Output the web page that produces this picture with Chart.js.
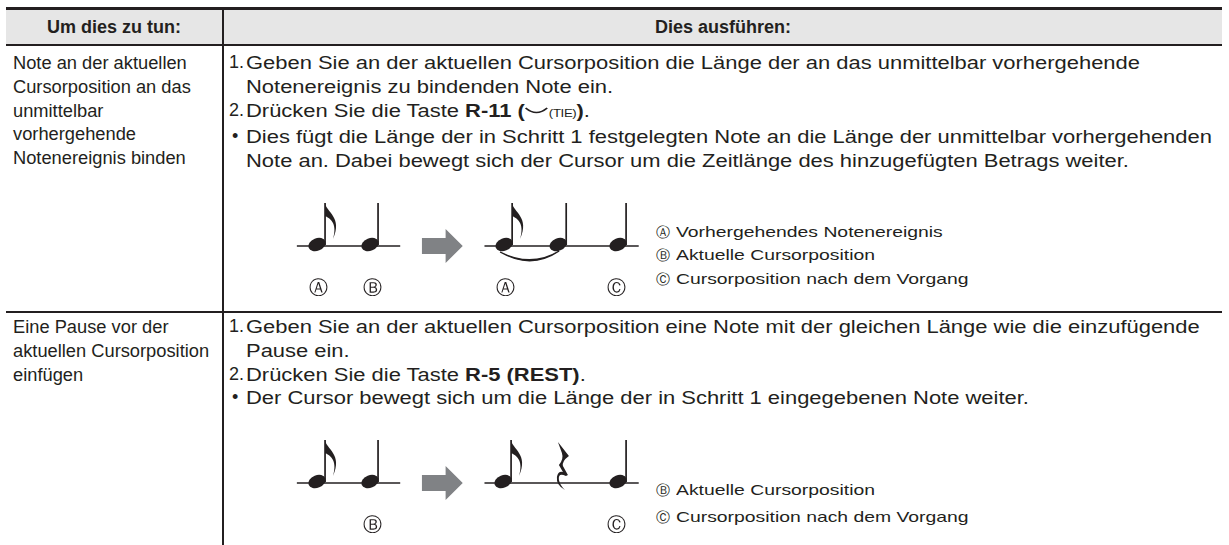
<!DOCTYPE html>
<html><head><meta charset="utf-8">
<script src="https://cdn.jsdelivr.net/npm/chart.js@4.4.1/dist/chart.umd.min.js"></script>
<style>
html,body{margin:0;padding:0;background:#fff;width:1229px;height:545px;overflow:hidden;}
body{font-family:"Liberation Sans",Arial,Helvetica,sans-serif;color:#231f20;position:relative;}
.bar{position:absolute;background:#231f20;}
.txt{position:absolute;font-size:18.3px;line-height:23.75px;white-space:nowrap;}
.hdr{position:absolute;font-size:18px;font-weight:bold;line-height:34px;text-align:center;top:10px;white-space:nowrap;}
.step{position:relative;padding-left:17px;}
.step .m{position:absolute;left:0;top:0;font-size:18px;}
.ln{transform:scaleX(1.2);transform-origin:0 50%;}
.lab{position:absolute;font-family:"DejaVu Sans",sans-serif;font-size:19px;line-height:19px;transform:translate(-50%,-50%);}
.leg{position:absolute;font-size:15px;line-height:18px;white-space:nowrap;transform:translateY(-50%);}
.leg .circ{font-family:"DejaVu Sans",sans-serif;font-size:13.5px;position:absolute;left:0;top:0;}
.leg .t{position:absolute;left:20px;top:0;transform:scaleX(1.29);transform-origin:0 50%;}
.small{font-size:11px;letter-spacing:-0.3px;}
canvas{position:absolute;}
</style></head><body>
<div id="root"></div>
<script>
// ---------- text content ----------
const headers = ['Um dies zu tun:', 'Dies ausführen:'];
const rowLabels = [
  ['Note an der aktuellen', 'Cursorposition an das', 'unmittelbar', 'vorhergehende', 'Notenereignis binden'],
  ['Eine Pause vor der', 'aktuellen Cursorposition', 'einfügen']
];
const tieKey = '<b>R-11 (</b><svg width="20" height="10" style="vertical-align:1px"><path d="M1 2 Q10 11 19 2" fill="none" stroke="#231f20" stroke-width="1.6"/></svg><span class="small">(TIE)</span><b>)</b>.';
const rowSteps = [
  [
    { m: '1.', lines: ['Geben Sie an der aktuellen Cursorposition die Länge der an das unmittelbar vorhergehende', 'Notenereignis zu bindenden Note ein.'] },
    { m: '2.', lines: ['Drücken Sie die Taste ' + tieKey] },
    { m: '•', lines: ['Dies fügt die Länge der in Schritt 1 festgelegten Note an die Länge der unmittelbar vorhergehenden', 'Note an. Dabei bewegt sich der Cursor um die Zeitlänge des hinzugefügten Betrags weiter.'] }
  ],
  [
    { m: '1.', lines: ['Geben Sie an der aktuellen Cursorposition eine Note mit der gleichen Länge wie die einzufügende', 'Pause ein.'] },
    { m: '2.', lines: ['Drücken Sie die Taste <b>R-5 (REST)</b>.'] },
    { m: '•', lines: ['Der Cursor bewegt sich um die Länge der in Schritt 1 eingegebenen Note weiter.'] }
  ]
];
const legendMarks = [['Ⓐ', 'Ⓑ', 'Ⓒ'], ['Ⓑ', 'Ⓒ']];
const legendTexts = [
  ['Vorhergehendes Notenereignis', 'Aktuelle Cursorposition', 'Cursorposition nach dem Vorgang'],
  ['Aktuelle Cursorposition', 'Cursorposition nach dem Vorgang']
];

// ---------- diagram data (positions in note slots) ----------
const beforeKinds = ['eighth', 'quarter'];
const beforeSlots = [0, 1];
const afterKinds = [['eighth', 'quarter', 'quarter'], ['eighth', 'rest', 'quarter']];
const afterSlots = [[3.53, 4.55, 5.68], [3.51, 4.64, 5.68]];
const staffBefore = [-0.38, 1.57];
const staffAfter = [3.16, 6.07];
const arrowSlots = [1.98, 2.75];
const tieSlots = [3.53, 4.55];
const circleMarks = [['Ⓐ', 'Ⓑ', 'Ⓐ', 'Ⓒ'], ['Ⓑ', 'Ⓒ']];
const circleSlots = [[0.03, 1.04, 3.55, 5.66], [1.04, 5.66]];

// ---------- layout ----------
const L = 6, R = 1222, DIV = 222;
const root = document.getElementById('root');
function add(html) { root.insertAdjacentHTML('beforeend', html); }
add(`<div style="position:absolute;left:${L}px;top:10px;width:${R-L}px;height:34px;background:#e6e6e6"></div>`);
add(`<div class="bar" style="left:${L}px;top:7px;width:${R-L}px;height:3px"></div>`);
add(`<div class="bar" style="left:${L}px;top:44px;width:${R-L}px;height:2px"></div>`);
add(`<div class="bar" style="left:${L}px;top:311px;width:${R-L}px;height:1.6px"></div>`);
add(`<div class="bar" style="left:${DIV}px;top:10px;width:2px;height:535px"></div>`);
add(`<div class="hdr" style="left:${L}px;width:${DIV-L}px">${headers[0]}</div>`);
add(`<div class="hdr" style="left:${DIV+2}px;width:${R-DIV-2}px">${headers[1]}</div>`);
const rowTops = [51, 315];
rowLabels.forEach((lines, r) => {
  add(`<div class="txt" style="left:13px;top:${rowTops[r]}px">${lines.join('<br>')}</div>`);
});
rowSteps.forEach((steps, r) => {
  const html = steps.map(s => `<div class="step"><span class="m"${s.m === '•' ? ' style="left:3px"' : ''}>${s.m}</span>${s.lines.map(l => `<div class="ln">${l}</div>`).join('')}</div>`).join('');
  add(`<div class="txt" style="left:229px;top:${rowTops[r]}px">${html}</div>`);
});
const legendY = [[232, 255, 279], [490, 517]];
legendTexts.forEach((arr, r) => arr.forEach((t, i) => {
  add(`<div class="leg" style="left:656px;top:${legendY[r][i]}px;height:18px"><span class="circ">${legendMarks[r][i]}</span><span class="t">${t}</span></div>`);
}));

// ---------- note drawing plugin ----------
const INK = '#231f20';
function head(ctx, x, y) {
  ctx.beginPath();
  ctx.ellipse(x, y - 1.5, 9, 6.2, -0.38, 0, Math.PI * 2);
  ctx.fill();
}
function stem(ctx, x, y) {
  ctx.fillRect(x + 7.2, y - 43, 1.7, 42);
}
function flag(ctx, x, y) {
  const sx = x + 8, top = y - 43;
  ctx.beginPath();
  ctx.moveTo(sx, top);
  ctx.bezierCurveTo(sx + 1, top + 9, sx + 18, top + 14, sx + 8, top + 36);
  ctx.bezierCurveTo(sx + 13, top + 19, sx + 4, top + 15, sx, top + 13);
  ctx.closePath();
  ctx.fill();
}
function rest(ctx, x, y) {
  ctx.beginPath();
  ctx.moveTo(x - 5, y - 41);
  ctx.lineTo(x + 6, y - 27);
  ctx.quadraticCurveTo(x - 1, y - 22, x + 0, y - 17);
  ctx.lineTo(x + 5, y - 8);
  ctx.lineTo(x + 3, y - 7);
  ctx.quadraticCurveTo(x - 5, y - 11, x - 4, y - 3);
  ctx.quadraticCurveTo(x - 3, y + 2, x + 2, y + 7);
  ctx.quadraticCurveTo(x - 7, y + 2, x - 6, y - 6);
  ctx.quadraticCurveTo(x - 5, y - 12, x + 0, y - 11);
  ctx.lineTo(x - 4, y - 18);
  ctx.quadraticCurveTo(x + 1, y - 24, x - 1, y - 30);
  ctx.closePath();
  ctx.fill();
}
const notePlugin = {
  id: 'notes',
  afterDatasetsDraw(chart) {
    const ctx = chart.ctx;
    ctx.save();
    ctx.fillStyle = INK; ctx.strokeStyle = INK;
    chart.data.datasets.forEach((ds, di) => {
      const pts = chart.getDatasetMeta(di).data;
      if (ds.kinds) {
        ds.kinds.forEach((k, i) => {
          const p = pts[i];
          if (k === 'rest') { rest(ctx, p.x, p.y); return; }
          head(ctx, p.x, p.y); stem(ctx, p.x, p.y);
          if (k === 'eighth') flag(ctx, p.x, p.y);
        });
      }
      if (ds.arrow) {
        const a = pts[0], b = pts[1], len = b.x - a.x;
        ctx.fillStyle = '#808285';
        ctx.beginPath();
        ctx.moveTo(a.x, a.y - 8); ctx.lineTo(a.x + len * 0.58, a.y - 8);
        ctx.lineTo(a.x + len * 0.58, a.y - 17); ctx.lineTo(b.x, a.y);
        ctx.lineTo(a.x + len * 0.58, a.y + 17); ctx.lineTo(a.x + len * 0.58, a.y + 8);
        ctx.lineTo(a.x, a.y + 8); ctx.closePath(); ctx.fill();
        ctx.fillStyle = INK;
      }
      if (ds.tie) {
        const a = pts[0], b = pts[1];
        ctx.beginPath();
        ctx.moveTo(a.x - 4, a.y + 6);
        ctx.quadraticCurveTo((a.x + b.x) / 2, a.y + 24, b.x + 1, a.y + 5);
        ctx.quadraticCurveTo((a.x + b.x) / 2, a.y + 22, a.x - 4, a.y + 6);
        ctx.lineWidth = 1.4; ctx.stroke(); ctx.fill();
      }
    });
    ctx.restore();
  }
};

// ---------- charts ----------
const PX = 53, ORIGIN = 317;       // slot -> page x mapping
const CL = 270, CW = 380, CH = 80; // canvas placement
const staffY = [245.5, 483];
function makeChart(r) {
  const cv = document.createElement('canvas');
  cv.width = CW; cv.height = CH;
  cv.style.left = CL + 'px';
  cv.style.top = (staffY[r] - 50) + 'px';
  cv.style.width = CW + 'px'; cv.style.height = CH + 'px';
  root.appendChild(cv);
  const line = (xs) => ({ type: 'line', data: xs.map(x => ({ x, y: 0 })), borderColor: INK, borderWidth: 1.4, pointRadius: 0, showLine: true });
  const chart = new Chart(cv, {
    type: 'scatter',
    data: {
      datasets: [
        line(staffBefore),
        line(staffAfter),
        { data: beforeSlots.map(x => ({ x, y: 0 })), kinds: beforeKinds, pointRadius: 0 },
        { data: afterSlots[r].map(x => ({ x, y: 0 })), kinds: afterKinds[r], pointRadius: 0 },
        { data: arrowSlots.map(x => ({ x, y: 0 })), arrow: true, pointRadius: 0 },
        ...(r === 0 ? [{ data: tieSlots.map(x => ({ x, y: 0 })), tie: true, pointRadius: 0 }] : [])
      ]
    },
    options: {
      responsive: false, animation: false, devicePixelRatio: 1,
      layout: { padding: 0 },
      plugins: { legend: { display: false }, tooltip: { enabled: false } },
      events: [],
      scales: {
        x: { type: 'linear', display: false, min: (CL - ORIGIN) / PX, max: (CL + CW - ORIGIN) / PX },
        y: { type: 'linear', display: false, min: -30, max: 50 }
      }
    },
    plugins: [notePlugin]
  });
  circleMarks[r].forEach((m, i) => {
    const x = CL + chart.scales.x.getPixelForValue(circleSlots[r][i]);
    add(`<div class="lab" style="left:${x}px;top:${staffY[r] + 41}px">${m}</div>`);
  });
}
makeChart(0);
makeChart(1);
</script>
</body></html>
